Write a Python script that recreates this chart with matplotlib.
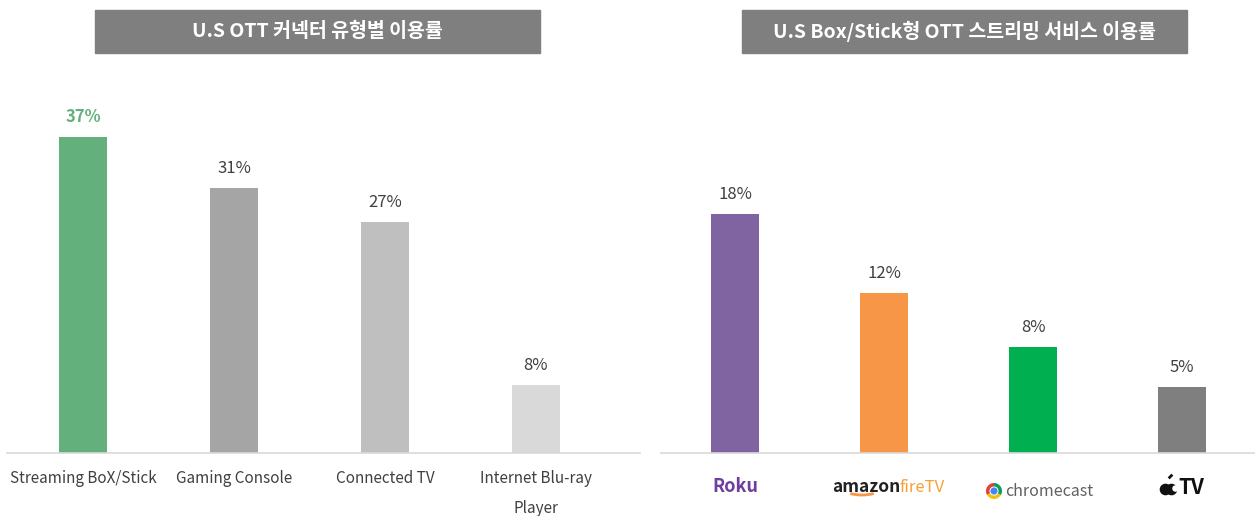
import matplotlib
matplotlib.use('Agg')
import matplotlib.pyplot as plt
from matplotlib.patches import Rectangle, Arc
from matplotlib.transforms import IdentityTransform
import numpy as np

plt.rcParams['font.family'] = ['Noto Sans CJK KR', 'DejaVu Sans']

# data
connector_labels = ['Streaming BoX/Stick', 'Gaming Console', 'Connected TV', 'Internet Blu-ray\nPlayer']
connector_share  = [37, 31, 27, 8]
connector_colors = ['#63b07c', '#a5a5a5', '#bfbfbf', '#d9d9d9']

service_names  = ['Roku', 'amazon fireTV', 'chromecast', 'Apple TV']
service_share  = [18, 12, 8, 5]
service_colors = ['#8064a2', '#f79646', '#00b050', '#7f7f7f']

titles = ['U.S OTT 커넥터 유형별 이용률', 'U.S Box/Stick형 OTT 스트리밍 서비스 이용률']

W, H = 1255, 516
fig = plt.figure(figsize=(W / 100, H / 100), dpi=100)

def px_axes(x0, x1, y_base, height):
    return fig.add_axes([x0 / W, (H - y_base) / H, (x1 - x0) / W, height / H])

label_col = '#404040'

# ---- left chart
ax1 = px_axes(7, 640, 453, 385)
idx = np.arange(len(connector_share))
ax1.bar(idx, connector_share, 0.318, color=connector_colors)
ax1.set_xlim(-0.503, 3.689)
ax1.set_ylim(0, 385 / 8.55)
for i, v in enumerate(connector_share):
    ax1.annotate(f'{v}%', (i, v), xytext=(0, 14), textcoords='offset points',
                 ha='center', va='center', fontsize=12,
                 color='#63b07c' if i == 0 else label_col,
                 fontweight='bold' if i == 0 else 'normal')
ax1.set_xticks(idx)
ax1.set_xticklabels(connector_labels, fontsize=11, color=label_col, linespacing=2.0, va='top')
ax1.tick_params(axis='x', length=0, pad=12)

# ---- right chart
ax2 = px_axes(661, 1255, 453, 385)
idx2 = np.arange(len(service_share))
ax2.bar(idx2, service_share, 0.322, color=service_colors)
ax2.set_xlim(-0.497, 3.49)
ax2.set_ylim(0, 385 / 13.3)
for i, v in enumerate(service_share):
    ax2.annotate(f'{v}%', (i, v), xytext=(0, 14), textcoords='offset points',
                 ha='center', va='center', fontsize=12, color=label_col)
ax2.set_xticks(idx2)
ax2.set_xticklabels([])
ax2.tick_params(axis='x', length=0)

for ax in (ax1, ax2):
    ax.set_yticks([])
    for s in ('top', 'right', 'left'):
        ax.spines[s].set_visible(False)
    ax.spines['bottom'].set_color('#d9d9d9')
    ax.spines['bottom'].set_linewidth(1.2)

# logos as text
tr = ax2.get_xaxis_transform()
ly = -34 / 385
ax2.text(0, ly, 'Roku', transform=tr, ha='center', va='center', fontsize=13,
         fontweight='heavy', color='#6f3fa0')
ax2.text(1 + 0.107, ly, 'amazon', transform=tr, ha='right', va='center', fontsize=12.5,
         fontweight='bold', color='#222222')
ax2.text(1 + 0.107, ly, 'fireTV', transform=tr, ha='left', va='center', fontsize=12,
         color='#f7a035', fontweight='light')
ax2.text(2 - 0.19, ly - 4 / 385, 'chromecast', transform=tr, ha='left', va='center',
         fontsize=11.5, color='#606060')
ax2.text(3 - 0.027, ly, 'TV', transform=tr, ha='left', va='center', fontsize=15,
         fontweight='bold', color='#111111')

# amazon smile (pixel coords)
ident = IdentityTransform()
fig.patches.append(Arc((862, H - 488), 38, 14, theta1=205, theta2=335,
                       color='#f79646', lw=2, transform=ident))

# apple glyph drawn from simple shapes
ax2.scatter([3 - 14 / 149 - 0.02, 3 - 14 / 149 + 0.02], [ly - 2 / 385] * 2, s=70,
            color='#111111', transform=tr, clip_on=False, zorder=3, linewidths=0)
ax2.scatter([3 - 14 / 149 + 0.045], [ly - 1 / 385], s=22, color='white',
            transform=tr, clip_on=False, zorder=4, linewidths=0)
ax2.scatter([3 - 14 / 149 + 0.012], [ly + 11 / 385], s=14, marker=(2, 0, -45),
            color='#111111', transform=tr, clip_on=False, zorder=3, linewidths=2)

# chromecast icon
icon = fig.add_axes([984 / W, (H - 501) / H, 20 / W, 20 / H])
icon.pie([1, 1, 1], colors=['#db4437', '#f4c20d', '#0f9d58'], startangle=90,
         wedgeprops=dict(linewidth=0))
icon.add_patch(plt.Circle((0, 0), 0.48, color='white'))
icon.add_patch(plt.Circle((0, 0), 0.36, color='#4285f4'))
icon.set_aspect('equal')
icon.axis('off')

# title boxes
for x0, t in zip([95, 742], titles):
    fig.patches.append(Rectangle((x0 / W, (H - 53) / H), 445 / W, 43 / H,
                                 transform=fig.transFigure, color='#7f7f7f'))
    fig.text((x0 + 222.5) / W, (H - 31.5) / H, t, ha='center', va='center',
             fontsize=14, fontweight='bold', color='white')

fig.savefig('out.png', dpi=100)
